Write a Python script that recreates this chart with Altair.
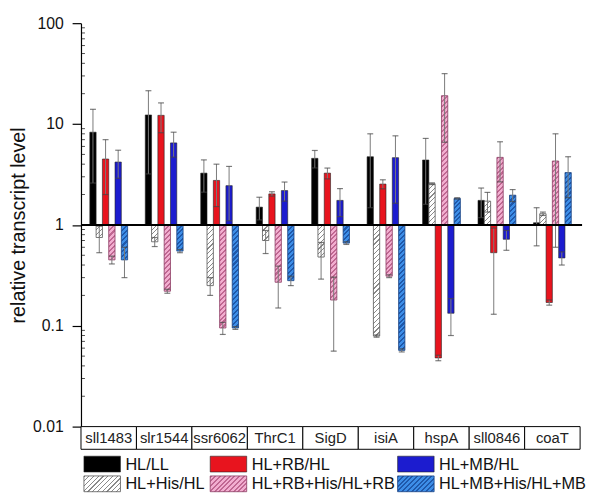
import math
import altair as alt
import pandas as pd

genes = ["sll1483", "slr1544", "ssr6062", "ThrC1", "SigD", "isiA", "hspA", "sll0846", "coaT"]
series = ["HL/LL", "HL+His/HL", "HL+RB/HL", "HL+RB+His/HL+RB", "HL+MB/HL", "HL+MB+His/HL+MB"]

hl_ll = [8.3, 12.3, 3.26, 1.50, 4.57, 4.74, 4.4, 1.75, 1.05]
hl_ll_sd = [5.7, 9.1, 1.15, 0.38, 0.9, 3.26, 2.8, 0.57, 0.43]
his_hl = [0.75, 0.68, 0.25, 0.70, 0.48, 0.079, 2.56, 1.72, 1.29]
his_hl_sd = [0.22, 0.07, 0.05, 0.18, 0.19, 0.002, 0.05, 0.38, 0.05]
rb_hl = [4.5, 12.2, 2.76, 2.03, 3.26, 2.54, 0.048, 0.53, 0.17]
rb_hl_sd = [2.5, 4.0, 1.24, 0.10, 0.4, 0.26, 0.003, 0.40, 0.01]
rb_his = [0.45, 0.22, 0.095, 0.27, 0.18, 0.31, 19.1, 4.67, 4.3]
rb_his_sd = [0.04, 0.01, 0.013, 0.12, 0.124, 0.01, 12.5, 2.0, 3.7]
mb_hl = [4.2, 6.5, 2.45, 2.19, 1.75, 4.64, 0.133, 0.72, 0.47]
mb_hl_sd = [1.3, 1.8, 1.35, 0.47, 0.54, 3.0, 0.053, 0.16, 0.07]
mb_his = [0.45, 0.55, 0.095, 0.28, 0.66, 0.057, 1.83, 1.97, 3.3]
mb_his_sd = [0.15, 0.02, 0.003, 0.03, 0.02, 0.002, 0.03, 0.27, 1.44]

y_ticks = [0.01, 0.1, 1, 10, 100]
minor_ticks = [m * d for d in (0.01, 0.1, 1, 10) for m in range(2, 10)]

values = [hl_ll, his_hl, rb_hl, rb_his, mb_hl, mb_his]
sds = [hl_ll_sd, his_hl_sd, rb_hl_sd, rb_his_sd, mb_hl_sd, mb_his_sd]

# styles
solid_fill = {"HL/LL": "#000000", "HL+RB/HL": "#e8141e", "HL+MB/HL": "#1c1ccf"}
hatch_style = {
    "HL+His/HL": ("#ffffff", "#8a8a8a", "#555555", 0.25),
    "HL+RB+His/HL+RB": ("#f2aed0", "#c06892", "#8a3a62", 0.42),
    "HL+MB+His/HL+MB": ("#3d8ee8", "#1f58aa", "#173f80", 0.42),
}

W, H = 506, 409
DEC = H / 4.0
OFF_PAD = 0.4
BAR_W = (W / len(genes)) / (8 + 2 * OFF_PAD)
FONT = "Liberation Sans"

rows = []
for s, vs, ss in zip(series, values, sds):
    for g, v, sd in zip(genes, vs, ss):
        rows.append({"gene": g, "series": s, "value": v, "lo": v - sd, "hi": v + sd})
df = pd.DataFrame(rows)

xenc = alt.X("gene:N", scale=alt.Scale(domain=genes, paddingInner=0, paddingOuter=0), axis=None)
# two empty slots either side of the six bars give the gap between gene groups
xoff = alt.XOffset("series:N", scale=alt.Scale(domain=[" "] + series + ["  "], paddingOuter=OFF_PAD, paddingInner=0))
yscale = alt.Scale(type="log", domain=[0.01, 100])
yaxis = alt.Axis(values=y_ticks, format="~g", title="relative transcript level",
                 titleFont=FONT, titleFontSize=20, titleFontWeight="normal", titleColor="#111",
                 titlePadding=4, labelFont=FONT, labelFontSize=16, labelColor="#111",
                 tickSize=9, labelPadding=9, grid=False, domainColor="black", tickColor="black",
                 domainWidth=1.2, tickWidth=1.2)


def yenc(field):
    return alt.Y(field, type="quantitative", scale=yscale, axis=yaxis)


def hatch(base, stripe, w, h, frac, period=5.0):
    n = max(1, int(round((w + h) / period)))
    k = (w + h) / (w * w + h * h)
    stops = []
    for i in range(n):
        a, b, c = i / n, (i + frac) / n, (i + 1) / n
        stops += [alt.GradientStop(color=stripe, offset=a), alt.GradientStop(color=stripe, offset=b),
                  alt.GradientStop(color=base, offset=b), alt.GradientStop(color=base, offset=c)]
    return alt.LinearGradient(gradient="linear", stops=stops, x1=0, y1=0, x2=w * k, y2=h * k)


layers = []

# solid bars
solid_df = df[df["series"].isin(list(solid_fill))]
layers.append(
    alt.Chart(solid_df).mark_bar(stroke="#222", strokeWidth=0.6).encode(
        x=xenc, xOffset=xoff, y=yenc("value"), y2=alt.datum(1),
        color=alt.Color("series:N", scale=alt.Scale(domain=list(solid_fill), range=list(solid_fill.values())), legend=None),
    )
)

# hatched bars, one layer per bar so each stripe pattern fits its own bar
for s, (base, stripe, edge, frac) in hatch_style.items():
    sub = df[df["series"] == s]
    for _, r in sub.iterrows():
        h = abs(math.log10(r["value"])) * DEC
        layers.append(
            alt.Chart(pd.DataFrame([r])).mark_bar(
                fill=hatch(base, stripe, BAR_W, h, frac), stroke=edge, strokeWidth=0.8
            ).encode(x=xenc, xOffset=xoff, y=yenc("value"), y2=alt.datum(1))
        )

# error bars
err = alt.Chart(df).encode(x=xenc, xOffset=xoff)
layers.append(err.mark_rule(color="#7a7a7a", strokeWidth=1).encode(y=yenc("lo"), y2="hi"))
layers.append(err.mark_tick(color="#444", size=6, thickness=1.2).encode(y=yenc("lo")))
layers.append(err.mark_tick(color="#444", size=6, thickness=1.2).encode(y=yenc("hi")))

# reference line at 1
layers.append(
    alt.Chart(pd.DataFrame({"v": [1]})).mark_rule(color="black", strokeWidth=2).encode(
        y=yenc("v"), x=alt.value(0), x2=alt.value(W + 2)
    )
)

# minor ticks inside the axis
layers.append(
    alt.Chart(pd.DataFrame({"m": minor_ticks})).mark_tick(orient="horizontal", size=4, thickness=1, color="black").encode(
        y=yenc("m"), x=alt.value(2)
    )
)

# category label boxes
gdf = pd.DataFrame({"gene": genes})
layers.append(
    alt.Chart(gdf).mark_rect(fill="white", stroke="black", strokeWidth=1).encode(
        x=xenc, y=alt.value(H), y2=alt.value(H + 23)
    )
)
layers.append(
    alt.Chart(gdf).mark_text(font=FONT, fontSize=15, color="#222", baseline="middle").encode(
        x=xenc, y=alt.value(H + 12), text="gene:N"
    )
)

# manual legend (3 columns x 2 rows)
legend_order = [("HL/LL", 0, 0), ("HL+RB/HL", 1, 0), ("HL+MB/HL", 2, 0),
                ("HL+His/HL", 0, 1), ("HL+RB+His/HL+RB", 1, 1), ("HL+MB+His/HL+MB", 2, 1)]
col_x = [3, 131, 321]
row_y = [439, 459]
SW, SH = 37, 16
one = pd.DataFrame({"a": [0]})
for name, c, r in legend_order:
    x0, y0 = col_x[c], row_y[r]
    if name in solid_fill:
        mk = alt.Chart(one).mark_rect(fill=solid_fill[name], stroke="#222", strokeWidth=0.6)
    else:
        base, stripe, edge, frac = hatch_style[name]
        mk = alt.Chart(one).mark_rect(fill=hatch(base, stripe, SW, SH, frac), stroke=edge, strokeWidth=0.8)
    layers.append(mk.encode(x=alt.value(x0), x2=alt.value(x0 + SW), y=alt.value(y0), y2=alt.value(y0 + SH)))
    layers.append(
        alt.Chart(one).mark_text(font=FONT, fontSize=16.5, color="#111", align="left", baseline="middle").encode(
            x=alt.value(x0 + SW + 5), y=alt.value(y0 + SH / 2 + 0.5), text=alt.value(name)
        )
    )

chart = alt.layer(*layers).properties(
    width=W, height=H,
    autosize=alt.AutoSizeParams(type="none"),
    padding={"left": 74, "top": 12, "right": 7, "bottom": 70},
).configure_view(stroke=None)

chart.save("out.html", embed_options={"renderer": "svg", "actions": False})
